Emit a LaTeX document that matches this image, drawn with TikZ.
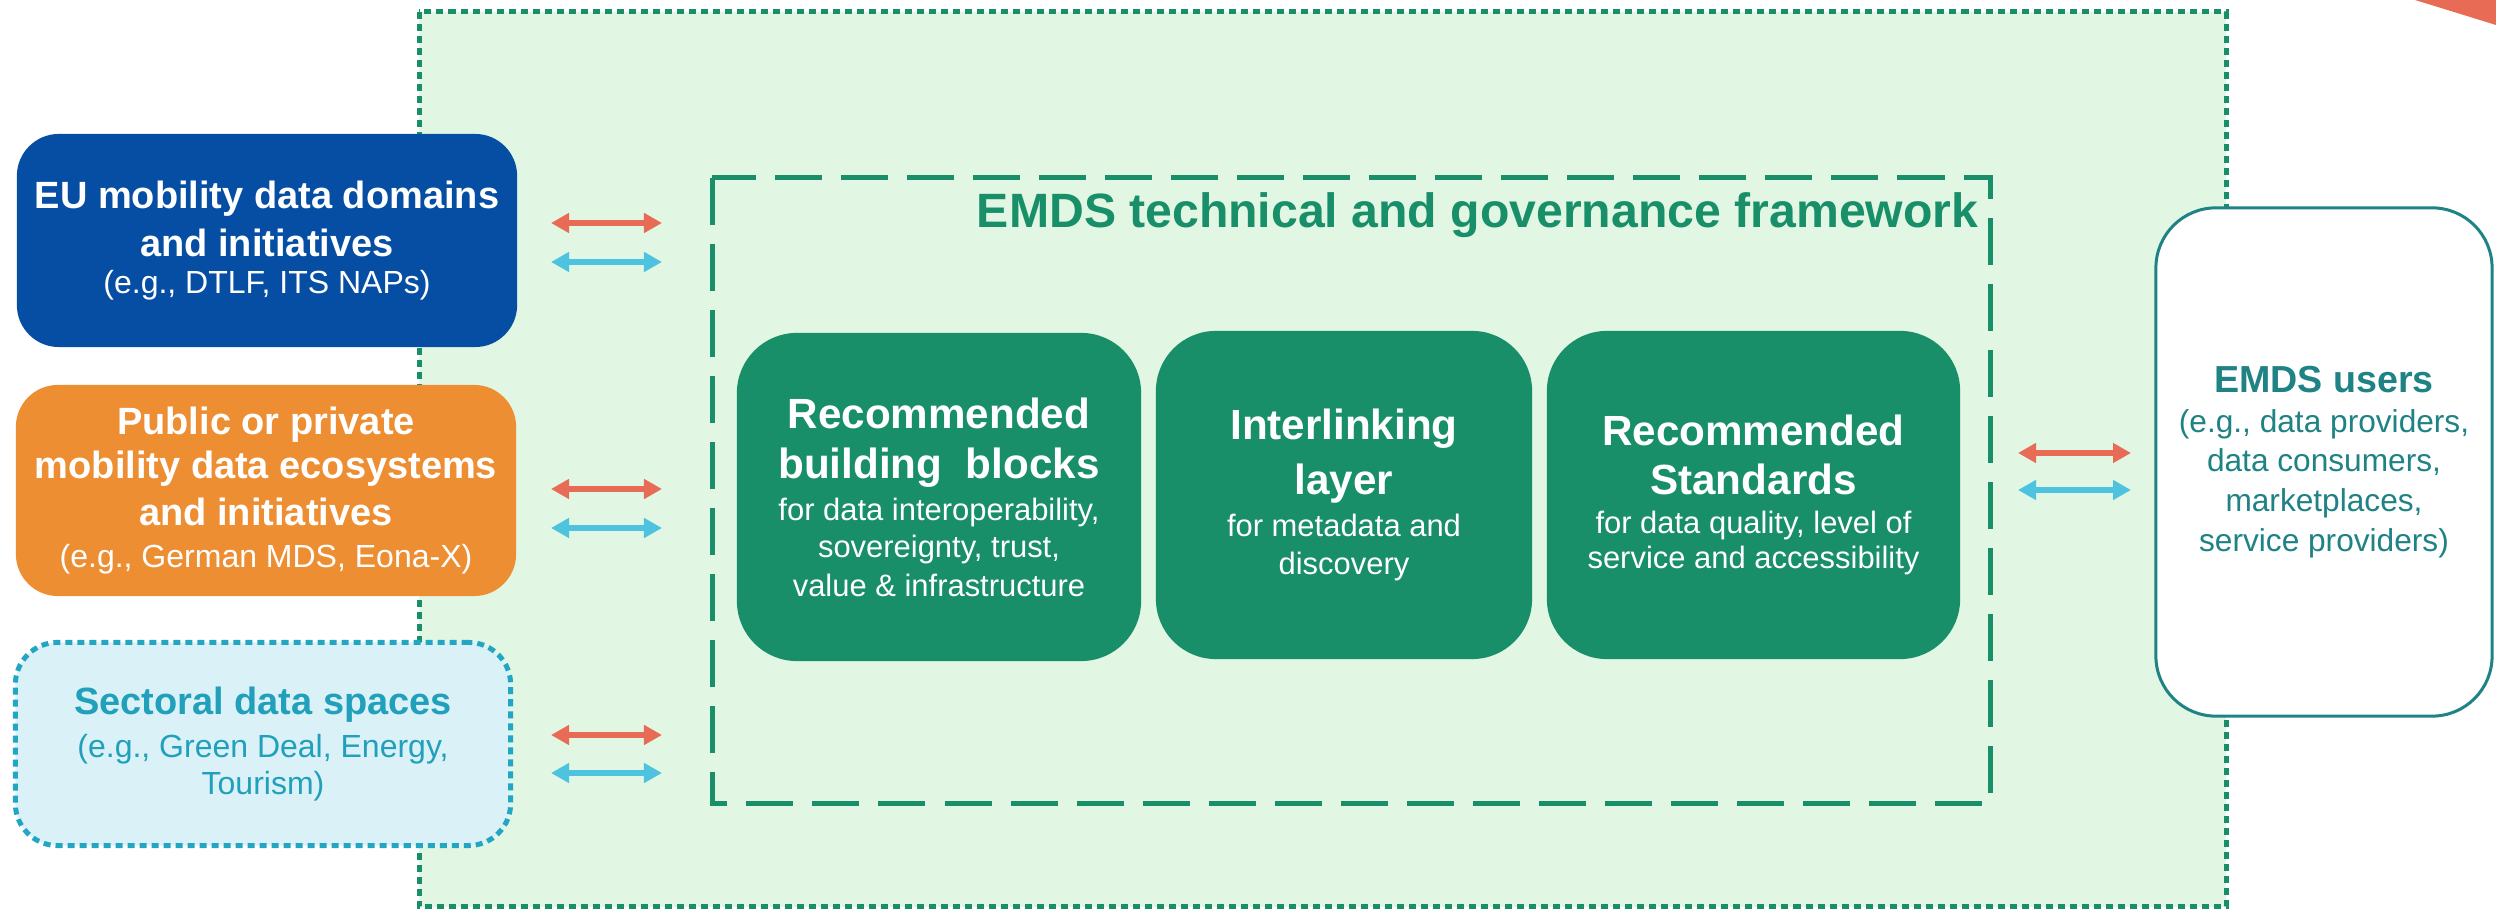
\documentclass[tikz,border=0pt]{standalone}
\usepackage{fontspec}
\setmainfont{Liberation Sans}
\usetikzlibrary{arrows.meta}
\definecolor{euBlue}{RGB}{5,78,163}
\definecolor{ecoOrange}{RGB}{238,142,51}
\definecolor{secFill}{RGB}{218,241,247}
\definecolor{secLine}{RGB}{33,166,196}
\definecolor{secText}{RGB}{33,160,188}
\definecolor{emdsGreen}{RGB}{24,143,104}
\definecolor{bgGreen}{RGB}{225,247,228}
\definecolor{arrRed}{RGB}{232,107,85}
\definecolor{arrBlue}{RGB}{77,195,223}
\definecolor{userTeal}{RGB}{31,130,133}
\tikzset{
  outerframe/.style={draw=emdsGreen, fill=bgGreen, line width=0.05cm, dash pattern=on 0.07cm off 0.05cm},
  innerframe/.style={draw=emdsGreen, line width=0.05cm, dash pattern=on 0.47cm off 0.19cm},
  sidebox/.style={rounded corners=0.42cm, minimum width=5cm, align=center, inner sep=0pt, text=white},
  greenbox/.style={fill=emdsGreen, rounded corners=0.6cm, minimum height=3.28cm, align=center, inner sep=0pt, text=white},
  userbox/.style={draw=userTeal, fill=white, line width=0.03cm, rounded corners=0.6cm, align=center, inner sep=0pt, text=userTeal},
  biarrow/.style={line width=0.065cm, {Triangle[length=0.18cm,width=0.19cm]}-{Triangle[length=0.18cm,width=0.19cm]}},
}
\newcommand{\sbold}{\fontsize{10.8}{13}\selectfont\bfseries}
\newcommand{\subsz}{\fontsize{9.1}{11}\selectfont\mdseries}
\newcommand{\gbold}{\fontsize{12}{14}\selectfont\bfseries}
\newcommand{\gsub}{\fontsize{8.8}{11}\selectfont\mdseries}
\begin{document}
\begin{tikzpicture}[x=0.01cm, y=-0.01cm]
\useasboundingbox (0,0) rectangle (2496,916);
% corner wedge
\fill[arrRed] (2415,0) -- (2496,0) -- (2496,25) -- cycle;
% outer dotted frame
\draw[outerframe] (419,12) rectangle (2226,907);
% inner dashed frame
\draw[innerframe] (712,178) rectangle (1990,804);
\node[anchor=base east, text=emdsGreen, font=\fontsize{13.7}{16}\selectfont\bfseries, inner sep=0pt] (title) at (1979,228) {EMDS technical and governance framework};
% green boxes
\node[greenbox, minimum width=4.04cm, font=\fontsize{8.8}{11}\selectfont] (bb) at (939,497) {\gbold Recommended\\[3.2pt] \gbold building\ \ blocks\\[1pt] \gsub for data interoperability,\\[-0.5pt] \gsub sovereignty, trust,\\ \gsub value \& infrastructure};
\node[greenbox, minimum width=3.76cm, font=\fontsize{8.8}{10.8}\selectfont] (il) at (1344,495) {\gbold Interlinking\\[3.4pt] \gbold layer\\[1.2pt] \gsub for metadata and\\ \gsub discovery};
\node[greenbox, minimum width=4.13cm, font=\fontsize{8.8}{10.2}\selectfont] (rs) at (1753.5,495) {\gbold Recommended\\[3.7pt] \gbold Standards\\[0.9pt] \gsub for data quality, level of\\ \gsub service and accessibility};
% left boxes
\node[sidebox, fill=euBlue, minimum height=2.13cm, font=\fontsize{10.8}{10.5}\selectfont] (eu) at (267,240.5) {\sbold EU mobility data domains\\[3.2pt] \sbold and initiatives\\ \subsz (e.g., DTLF, ITS NAPs)};
\node[sidebox, fill=ecoOrange, minimum height=2.11cm, font=\fontsize{10.8}{12}\selectfont] (eco) at (266,490.5) {\sbold Public or private\\[0.5pt] \sbold mobility data ecosystems\\[1.4pt] \sbold and initiatives\\ \subsz (e.g., German MDS, Eona-X)};
\node[sidebox, fill=secFill, draw=secLine, line width=0.05cm, dash pattern=on 0.07cm off 0.05cm, minimum width=4.95cm, minimum height=2.03cm, text=secText, font=\fontsize{10.8}{10.5}\selectfont] (sec) at (263,744) {\sbold Sectoral data spaces\\[1.5pt] \subsz (e.g., Green Deal, Energy,\\ \subsz Tourism)};
% users box
\node[userbox, minimum width=3.36cm, minimum height=5.08cm, font=\fontsize{9}{11.3}\selectfont] (users) at (2324,462) {\fontsize{10.7}{13}\selectfont\bfseries EMDS users\\ (e.g., data providers,\\ data consumers,\\ marketplaces,\\ service providers)};
% arrow end points
\coordinate (euR1) at (551,223); \coordinate (fwR1) at (662,223);
\coordinate (euB1) at (551,262); \coordinate (fwB1) at (662,262);
\coordinate (ecR1) at (551,489); \coordinate (fwR2) at (662,489);
\coordinate (ecB1) at (551,528); \coordinate (fwB2) at (662,528);
\coordinate (seR1) at (551,735); \coordinate (fwR3) at (662,735);
\coordinate (seB1) at (551,773); \coordinate (fwB3) at (662,773);
\coordinate (fwR4) at (2018,453); \coordinate (usR1) at (2131,453);
\coordinate (fwB4) at (2018,490); \coordinate (usB1) at (2131,490);
\draw[biarrow, arrRed] (euR1) -- (fwR1);
\draw[biarrow, arrBlue] (euB1) -- (fwB1);
\draw[biarrow, arrRed] (ecR1) -- (fwR2);
\draw[biarrow, arrBlue] (ecB1) -- (fwB2);
\draw[biarrow, arrRed] (seR1) -- (fwR3);
\draw[biarrow, arrBlue] (seB1) -- (fwB3);
\draw[biarrow, arrRed] (fwR4) -- (usR1);
\draw[biarrow, arrBlue] (fwB4) -- (usB1);
\end{tikzpicture}
\end{document}
